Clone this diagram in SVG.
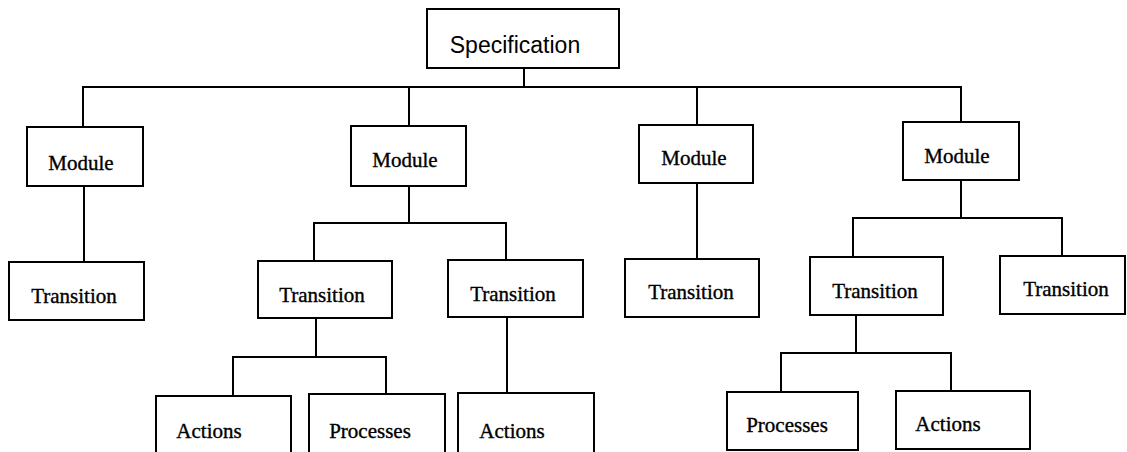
<svg xmlns="http://www.w3.org/2000/svg" width="1127" height="452" viewBox="0 0 1127 452">
<style>
.box{fill:#fff;stroke:#000;stroke-width:2}
.lbl{font-family:"Liberation Serif","Times New Roman",serif;font-size:21px;fill:#000;stroke:#000;stroke-width:0.35;text-anchor:middle}
.spec{font-family:"Liberation Sans",Arial,sans-serif;font-size:23px;fill:#000;text-anchor:middle}
.conn{fill:none;stroke:#000;stroke-width:2}
</style>
<rect width="1127" height="452" fill="#fff"/>
<g id="connectors" class="conn">
<polyline points="524,68 524,87"/>
<polyline points="83,127 83,87 961,87 961,122"/>
<polyline points="409,87 409,126"/>
<polyline points="697,87 697,125"/>
<polyline points="84,186 84,262"/>
<polyline points="409,186 409,223"/>
<polyline points="314,261 314,223 506,223 506,260"/>
<polyline points="697,183 697,259"/>
<polyline points="961,180 961,218"/>
<polyline points="853,257 853,218 1062,218 1062,256"/>
<polyline points="316,318 316,357"/>
<polyline points="233,396 233,357 386,357 386,394"/>
<polyline points="507,317 507,393"/>
<polyline points="856,315 856,353"/>
<polyline points="781,392 781,353 951,353 951,391"/>
</g>
<g id="spec"><rect class="box" x="427" y="9" width="192" height="59"/><text class="spec" x="515" y="53">Specification</text></g>
<g id="module1"><rect class="box" x="27" y="127" width="116" height="59"/><text class="lbl" x="81" y="170">Module</text></g>
<g id="module2"><rect class="box" x="351" y="126" width="115" height="60"/><text class="lbl" x="405" y="167">Module</text></g>
<g id="module3"><rect class="box" x="639" y="125" width="114" height="58"/><text class="lbl" x="694" y="165">Module</text></g>
<g id="module4"><rect class="box" x="903" y="122" width="116" height="58"/><text class="lbl" x="957" y="163">Module</text></g>
<g id="transition1"><rect class="box" x="9" y="262" width="135" height="58"/><text class="lbl" x="74" y="303">Transition</text></g>
<g id="transition2"><rect class="box" x="258" y="261" width="134" height="57"/><text class="lbl" x="322" y="302">Transition</text></g>
<g id="transition3"><rect class="box" x="448" y="260" width="135" height="57"/><text class="lbl" x="513" y="301">Transition</text></g>
<g id="transition4"><rect class="box" x="625" y="259" width="134" height="58"/><text class="lbl" x="691" y="299">Transition</text></g>
<g id="transition5"><rect class="box" x="810" y="257" width="133" height="58"/><text class="lbl" x="875" y="298">Transition</text></g>
<g id="transition6"><rect class="box" x="1000" y="256" width="125" height="58"/><text class="lbl" x="1066" y="296">Transition</text></g>
<g id="actions1"><rect class="box" x="156" y="396" width="135" height="70"/><text class="lbl" x="209" y="438">Actions</text></g>
<g id="processes1"><rect class="box" x="309" y="394" width="136" height="72"/><text class="lbl" x="370" y="438">Processes</text></g>
<g id="actions2"><rect class="box" x="458" y="393" width="136" height="73"/><text class="lbl" x="512" y="438">Actions</text></g>
<g id="processes2"><rect class="box" x="727" y="392" width="131" height="58"/><text class="lbl" x="787" y="432">Processes</text></g>
<g id="actions3"><rect class="box" x="896" y="391" width="134" height="58"/><text class="lbl" x="948" y="431">Actions</text></g>
</svg>
